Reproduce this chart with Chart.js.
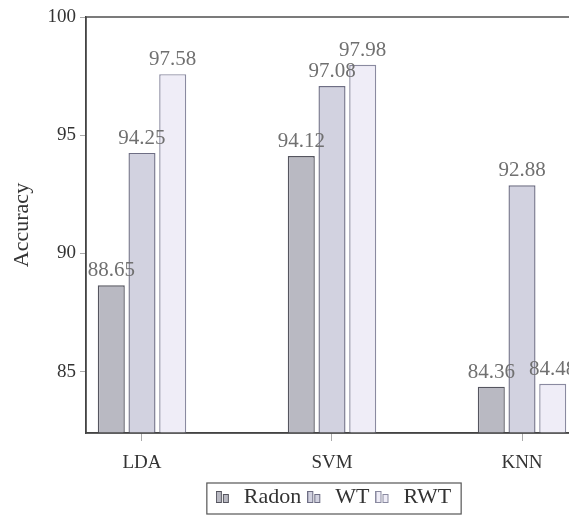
<!DOCTYPE html>
<html>
<head>
<meta charset="utf-8">
<script src="https://cdn.jsdelivr.net/npm/chart.js@4"></script>
<style>
  html, body { margin: 0; padding: 0; background: #fff; overflow: hidden; }
  #wrap { position: absolute; left: 0; top: 0; width: 578px; height: 522px; }
</style>
</head>
<body>
<div id="wrap"><canvas id="c"></canvas></div>
<script>
"use strict";
const categories = ["LDA", "SVM", "KNN"];
const seriesNames = ["Radon", "WT", "RWT"];
const radon = [88.65, 94.12, 84.36];
const wt = [94.25, 97.08, 92.88];
const rwt = [97.58, 97.98, 84.48];
const yTicks = [85, 90, 95, 100];

const FONT = "'Liberation Serif', 'DejaVu Serif', serif";
const fills = ["#b9b9c2", "#d2d2e0", "#efedf7"];
const edges = ["#55555f", "#6e6e84", "#8a8aa0"];

// small two-bar legend icon, like the ybar legend
function barIcon(fill, edge) {
  const cv = document.createElement("canvas");
  cv.width = 14; cv.height = 12;
  const g = cv.getContext("2d");
  g.fillStyle = fill; g.strokeStyle = edge; g.lineWidth = 1;
  g.fillRect(1, 1, 4, 10); g.strokeRect(0.5, 0.5, 5, 11);
  g.fillRect(8, 4, 4, 7); g.strokeRect(7.5, 3.5, 5, 8);
  return cv;
}
const icons = fills.map((f, i) => barIcon(f, edges[i]));

const toPoints = arr => arr.map((v, i) => ({ x: i, y: v }));

const valueLabels = {
  id: "valueLabels",
  afterDatasetsDraw(chart) {
    const ctx = chart.ctx;
    ctx.save();
    ctx.font = "21px " + FONT;
    ctx.fillStyle = "#707070";
    ctx.textAlign = "center";
    ctx.textBaseline = "bottom";
    chart.data.datasets.forEach((ds, di) => {
      chart.getDatasetMeta(di).data.forEach((el, i) => {
        ctx.fillText(ds.data[i].y.toFixed(2), el.x, el.y - 4);
      });
    });
    ctx.restore();
  }
};

const frame = {
  id: "frame",
  afterDraw(chart) {
    const a = chart.chartArea, ctx = chart.ctx;
    ctx.save();
    ctx.strokeStyle = "#444";
    ctx.lineWidth = 1.4;
    ctx.strokeRect(a.left, a.top, a.right - a.left, a.bottom - a.top);
    // legend box
    const hb = chart.legend.legendHitBoxes;
    if (hb && hb.length) {
      const l = hb[0].left - 6;
      const r = hb[hb.length - 1].left + hb[hb.length - 1].width + 10;
      const t = hb[0].top - 3;
      const b = hb[0].top + hb[0].height + 6;
      ctx.lineWidth = 1.2;
      ctx.strokeStyle = "#555";
      ctx.strokeRect(l, t, r - l, b - t);
    }
    ctx.restore();
  }
};

new Chart(document.getElementById("c"), {
  type: "bar",
  data: {
    datasets: [radon, wt, rwt].map((vals, i) => ({
      label: seriesNames[i],
      data: toPoints(vals),
      backgroundColor: fills[i],
      borderColor: edges[i],
      borderWidth: 1.4,
      categoryPercentage: 0.485,
      barPercentage: 0.88
    }))
  },
  options: {
    responsive: true,
    maintainAspectRatio: false,
    animation: false,
    layout: { padding: { top: 17, left: 0, right: 0, bottom: 4 } },
    scales: {
      x: {
        type: "linear",
        offset: false,
        min: -0.2947,
        max: 2.2947,
        afterBuildTicks: s => { s.ticks = categories.map((c, i) => ({ value: i })); },
        afterFit: s => { s.height = 50; },
        ticks: {
          callback: v => categories[v],
          font: { family: FONT, size: 19 },
          color: "#333",
          padding: 11,
          maxRotation: 0
        },
        grid: { drawOnChartArea: false, offset: false, tickLength: 8, color: "#aaa" },
        border: { color: "#444", width: 1.4 }
      },
      y: {
        min: 82.4,
        max: 100,
        afterBuildTicks: s => { s.ticks = yTicks.map(v => ({ value: v })); },
        afterFit: s => { s.width = 86; },
        ticks: {
          font: { family: FONT, size: 19 },
          color: "#333",
          padding: 4
        },
        grid: { drawOnChartArea: false, tickLength: 6, color: "#aaa" },
        border: { color: "#444", width: 1.4 },
        title: {
          display: true,
          text: "Accuracy",
          font: { family: FONT, size: 22 },
          color: "#333",
          padding: { top: 9, bottom: 0 }
        }
      }
    },
    plugins: {
      legend: {
        position: "bottom",
        fullSize: false,
        labels: {
          usePointStyle: true,
          pointStyleWidth: 20,
          padding: 3,
          color: "#333",
          font: { family: FONT, size: 22 },
          generateLabels(chart) {
            const items = Chart.defaults.plugins.legend.labels.generateLabels(chart);
            items.forEach((it, i) => { it.pointStyle = icons[i]; });
            return items;
          }
        }
      },
      tooltip: { enabled: false }
    }
  },
  plugins: [valueLabels, frame]
});
</script>
</body>
</html>
